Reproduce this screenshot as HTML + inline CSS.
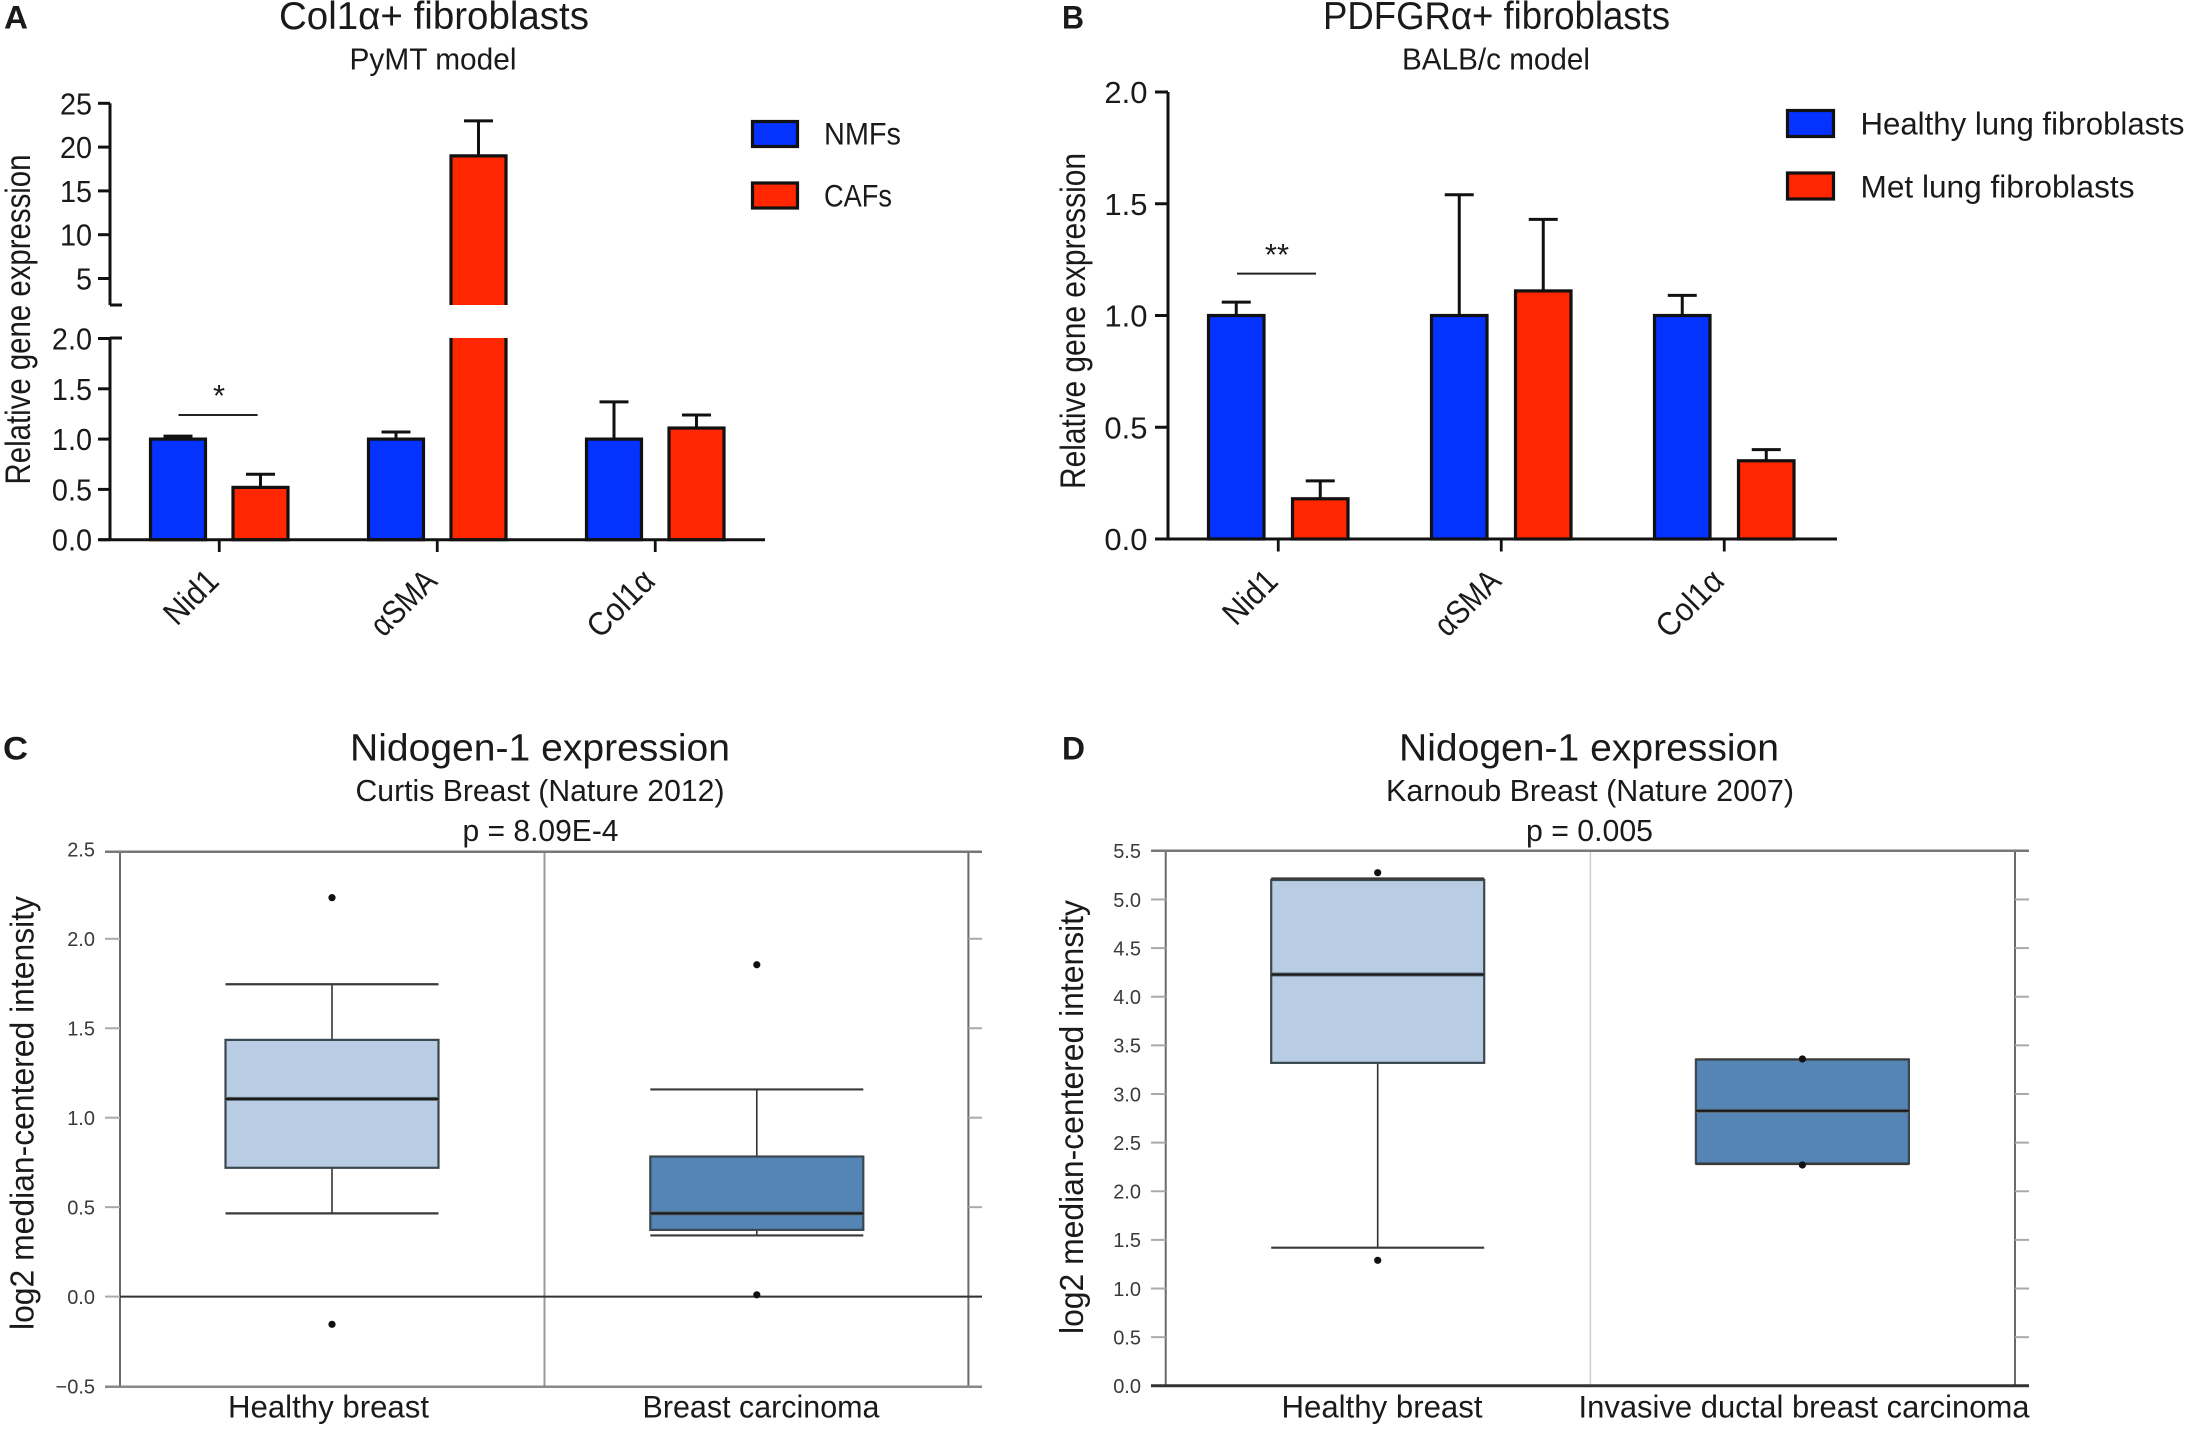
<!DOCTYPE html>
<html>
<head>
<meta charset="utf-8">
<title>Nidogen-1 expression figure</title>
<style>
html,body{margin:0;padding:0;background:#fff;}
svg{display:block;}
text{font-family:"Liberation Sans",sans-serif;fill:#1a1a1a;}
</style>
</head>
<body>
<svg id="fig" xmlns="http://www.w3.org/2000/svg" width="2186" height="1432" viewBox="0 0 2186 1432">
<rect x="0" y="0" width="2186" height="1432" fill="#fff"/>

<text x="4" y="28.5" font-size="32" font-weight="bold" textLength="24" lengthAdjust="spacingAndGlyphs">A</text>
<text x="279" y="29" font-size="39" textLength="310" lengthAdjust="spacingAndGlyphs">Col1α+ fibroblasts</text>
<text x="349.5" y="69.4" font-size="30.5" textLength="167" lengthAdjust="spacingAndGlyphs">PyMT model</text>
<text transform="translate(30 484.5) rotate(-90)" x="0" y="0" font-size="35" textLength="330" lengthAdjust="spacingAndGlyphs">Relative gene expression</text>
<text x="219" y="406" font-size="31" text-anchor="middle">*</text>
<rect x="752.5" y="121.5" width="45" height="25" fill="#0433ff" stroke="#111" stroke-width="3.2"/>
<text x="824" y="144.5" font-size="31.5" textLength="77" lengthAdjust="spacingAndGlyphs">NMFs</text>
<rect x="752.5" y="183" width="45" height="25" fill="#ff2600" stroke="#111" stroke-width="3.2"/>
<text x="824" y="206.5" font-size="31.5" textLength="68" lengthAdjust="spacingAndGlyphs">CAFs</text>

<text x="1062" y="28.5" font-size="32" font-weight="bold" textLength="22" lengthAdjust="spacingAndGlyphs">B</text>
<text x="1323" y="29" font-size="39" textLength="347" lengthAdjust="spacingAndGlyphs">PDFGRα+ fibroblasts</text>
<text x="1402" y="69.4" font-size="30.5" textLength="188" lengthAdjust="spacingAndGlyphs">BALB/c model</text>
<text transform="translate(1085 489) rotate(-90)" x="0" y="0" font-size="35" textLength="336" lengthAdjust="spacingAndGlyphs">Relative gene expression</text>
<text x="1277" y="265" font-size="31" text-anchor="middle">**</text>
<rect x="1787.5" y="110.5" width="46" height="26" fill="#0433ff" stroke="#111" stroke-width="3.2"/>
<text x="1860.5" y="134.5" font-size="31.5" textLength="324" lengthAdjust="spacingAndGlyphs">Healthy lung fibroblasts</text>
<rect x="1787.5" y="173" width="46" height="26" fill="#ff2600" stroke="#111" stroke-width="3.2"/>
<text x="1860.5" y="197.5" font-size="31.5" textLength="274" lengthAdjust="spacingAndGlyphs">Met lung fibroblasts</text>

<text x="3" y="759.5" font-size="32" font-weight="bold" textLength="25" lengthAdjust="spacingAndGlyphs">C</text>
<text x="350" y="760.7" font-size="38" textLength="380" lengthAdjust="spacingAndGlyphs">Nidogen-1 expression</text>
<text x="355.5" y="800.8" font-size="30.5" textLength="369" lengthAdjust="spacingAndGlyphs">Curtis Breast (Nature 2012)</text>
<text x="462.5" y="841" font-size="30.5" textLength="156" lengthAdjust="spacingAndGlyphs">p = 8.09E-4</text>
<text transform="translate(33.5 1330) rotate(-90)" x="0" y="0" font-size="33" textLength="434" lengthAdjust="spacingAndGlyphs">log2 median-centered intensity</text>

<text x="1062" y="759.5" font-size="32" font-weight="bold" textLength="23" lengthAdjust="spacingAndGlyphs">D</text>
<text x="1399" y="760.7" font-size="38" textLength="380" lengthAdjust="spacingAndGlyphs">Nidogen-1 expression</text>
<text x="1386" y="800.8" font-size="30.5" textLength="408" lengthAdjust="spacingAndGlyphs">Karnoub Breast (Nature 2007)</text>
<text x="1526" y="841" font-size="30.5" textLength="127" lengthAdjust="spacingAndGlyphs">p = 0.005</text>
<text transform="translate(1083 1334) rotate(-90)" x="0" y="0" font-size="33" textLength="434" lengthAdjust="spacingAndGlyphs">log2 median-centered intensity</text>
</svg>

<script>
// ---- Panel A data ----
const categoriesA = ['Nid1', 'αSMA', 'Col1α'];
const nmfMeansA = [1, 1, 1];
const nmfErrTopsA = [1.03, 1.07, 1.37];
const cafMeansA = [0.52, 19, 1.11];
const cafErrTopsA = [0.65, 23, 1.24];
const lowerTicksA = [0, 0.5, 1, 1.5, 2];
const upperTicksA = [5, 10, 15, 20, 25];

// ---- Panel B data ----
const categoriesB = ['Nid1', 'αSMA', 'Col1α'];
const healthyMeansB = [1, 1, 1];
const healthyErrTopsB = [1.06, 1.54, 1.09];
const metMeansB = [0.18, 1.11, 0.35];
const metErrTopsB = [0.26, 1.43, 0.40];
const ticksB = [0, 0.5, 1, 1.5, 2];

// ---- Panel C data ----
const groupsC = ['Healthy breast', 'Breast carcinoma'];
const q1C = [0.72, 0.373];
const medianC = [1.105, 0.465];
const q3C = [1.435, 0.783];
const whiskerLowC = [0.465, 0.342];
const whiskerHighC = [1.746, 1.158];
const outliersLowC = [-0.155, 0.01];
const outliersHighC = [2.23, 1.855];
const ticksC = [-0.5, 0, 0.5, 1, 1.5, 2, 2.5];

// ---- Panel D data ----
const groupsD = ['Healthy breast', 'Invasive ductal breast carcinoma'];
const q1D = [3.32, 2.285];
const medianD = [4.228, 2.827];
const q3D = [5.2, 3.355];
const whiskerLowD = [1.42, 2.28];
const whiskerHighD = [5.215, 3.355];
const outliersLowD = [1.29, 2.27];
const outliersHighD = [5.275, 3.36];
const ticksD = [0, 0.5, 1, 1.5, 2, 2.5, 3, 3.5, 4, 4.5, 5, 5.5];

const SVGNS = 'http://www.w3.org/2000/svg';
const root = document.getElementById('fig');
const INK = '#111';

function mk(tag, name, attrs, txt) {
  const el = document.createElementNS(SVGNS, tag);
  
  
  for (const k in attrs) el.setAttribute(k, attrs[k]);
  if (txt !== undefined) el.textContent = txt;
  root.appendChild(el);
  return el;
}
function line(name, x1, y1, x2, y2, color, w) {
  return mk('line', name, {x1: x1, y1: y1, x2: x2, y2: y2, stroke: color, 'stroke-width': w});
}

// ---- Axis functions ----
const A_BREAK_LOW = 338, A_BREAK_HIGH = 305;
function yLowerA(v) { return 539.7 - v * 100.6; }
function yUpperA(v) { return 103.3 + (25 - v) * 8.76; }
function yA(v) { return v <= 2 ? yLowerA(v) : yUpperA(v); }
function barLeftA(cat, series) { return 150.5 + cat * 218 + series * 82.5; }
const BAR_W_A = 55;
function yB(v) { return 539 - v * 223.5; }
function barLeftB(cat, series) { return 1208.5 + cat * 223 + series * 84; }
const BAR_W_B = 55.5;
function yC(v) { return 1296.6 - v * 178.9; }
function yD(v) { return 1385.8 - v * 97.27; }

function drawBar(name, left, w, top, base, color) {
  mk('rect', name, {x: left, y: top, width: w, height: base - top, fill: color, stroke: INK, 'stroke-width': 3.2});
}
function drawBrokenBar(name, left, w, top, color) {
  mk('path', name + '-upper', {d: 'M' + left + ' ' + A_BREAK_HIGH + ' V' + top + ' H' + (left + w) + ' V' + A_BREAK_HIGH, fill: color, stroke: INK, 'stroke-width': 3.2});
  mk('path', name + '-lower', {d: 'M' + left + ' ' + A_BREAK_LOW + ' V' + yLowerA(0) + ' H' + (left + w) + ' V' + A_BREAK_LOW, fill: color, stroke: INK, 'stroke-width': 3.2});
}
function drawErr(name, cx, yBar, yTop, cap) {
  line(name + '-stem', cx, yBar, cx, yTop, INK, 3);
  line(name + '-cap', cx - cap / 2, yTop, cx + cap / 2, yTop, INK, 3);
}
function tickLabel(name, x, y, s, size) {
  return mk('text', name, {x: x, y: y, 'font-size': size, 'text-anchor': 'end'}, s);
}
function condensedTickLabel(name, x, y, s, squeeze) {
  const size = 31;
  let len = 0;
  for (const ch of s) len += (ch === '.' ? 0.278 : 0.556) * size * squeeze;
  return mk('text', name, {x: x, y: y, 'font-size': size, 'text-anchor': 'end', textLength: len, lengthAdjust: 'spacingAndGlyphs'}, s);
}
function catLabel(name, x, y, s) {
  const len = s.length === 4 && s.charAt(0) === 'N' ? 62 : (s.charAt(0) === 'C' ? 80 : 78);
  return mk('text', name, {x: x, y: y, 'font-size': 33, 'text-anchor': 'end', textLength: len, lengthAdjust: 'spacingAndGlyphs', transform: 'rotate(-45 ' + x + ' ' + y + ')'}, s);
}

// ---- Panel A ----
categoriesA.forEach(function (c, i) {
  const l0 = barLeftA(i, 0), l1 = barLeftA(i, 1);
  drawErr('panel-a-nmf-error-' + i, l0 + BAR_W_A / 2, yA(nmfMeansA[i]), yA(nmfErrTopsA[i]), 29);
  drawErr('panel-a-caf-error-' + i, l1 + BAR_W_A / 2, yA(cafMeansA[i]), yA(cafErrTopsA[i]), 29);
  drawBar('panel-a-nmf-bar-' + i, l0, BAR_W_A, yA(nmfMeansA[i]), yLowerA(0), '#0433ff');
  if (cafMeansA[i] > 2) {
    drawBrokenBar('panel-a-caf-bar-' + i, l1, BAR_W_A, yA(cafMeansA[i]), '#ff2600');
  } else {
    drawBar('panel-a-caf-bar-' + i, l1, BAR_W_A, yA(cafMeansA[i]), yLowerA(0), '#ff2600');
  }
  const tx = (l0 + l1 + BAR_W_A) / 2;
  line('panel-a-x-tick-' + i, tx, yLowerA(0), tx, 552, INK, 2.8);
  catLabel('panel-a-x-label-' + i, tx + 1.5, 583, c);
});
line('panel-a-y-axis-lower', 110, yLowerA(0), 110, A_BREAK_LOW, INK, 3);
line('panel-a-y-axis-upper', 110, yUpperA(25), 110, A_BREAK_HIGH, INK, 3);
line('panel-a-x-axis', 99, yLowerA(0), 765, yLowerA(0), INK, 3);
line('panel-a-break-tick-low', 110, A_BREAK_LOW, 122, A_BREAK_LOW, INK, 3);
line('panel-a-break-tick-high', 110, A_BREAK_HIGH, 122, A_BREAK_HIGH, INK, 3);
lowerTicksA.forEach(function (v) {
  line('panel-a-y-tick', 98, yLowerA(v), 110, yLowerA(v), INK, 3);
  condensedTickLabel('panel-a-y-tick-label', 92, yLowerA(v) + 11, v.toFixed(1), 0.93);
});
upperTicksA.forEach(function (v) {
  line('panel-a-y-tick', 98, yUpperA(v), 110, yUpperA(v), INK, 3);
  condensedTickLabel('panel-a-y-tick-label', 92, yUpperA(v) + 11, String(v), 0.93);
});
line('panel-a-significance-bracket', 178.5, 415, 257.6, 415, '#222', 2);

// ---- Panel B ----
categoriesB.forEach(function (c, i) {
  const l0 = barLeftB(i, 0), l1 = barLeftB(i, 1);
  drawErr('panel-b-healthy-error-' + i, l0 + BAR_W_B / 2, yB(healthyMeansB[i]), yB(healthyErrTopsB[i]), 29);
  drawErr('panel-b-met-error-' + i, l1 + BAR_W_B / 2, yB(metMeansB[i]), yB(metErrTopsB[i]), 29);
  drawBar('panel-b-healthy-bar-' + i, l0, BAR_W_B, yB(healthyMeansB[i]), yB(0), '#0433ff');
  drawBar('panel-b-met-bar-' + i, l1, BAR_W_B, yB(metMeansB[i]), yB(0), '#ff2600');
  const tx = (l0 + l1 + BAR_W_B) / 2;
  line('panel-b-x-tick-' + i, tx, yB(0), tx, 551.5, INK, 2.8);
  catLabel('panel-b-x-label-' + i, tx + 1.5, 583, c);
});
line('panel-b-y-axis', 1168, yB(0), 1168, yB(2), INK, 3);
line('panel-b-x-axis', 1155.5, yB(0), 1837, yB(0), INK, 3);
ticksB.forEach(function (v) {
  line('panel-b-y-tick', 1155, yB(v), 1168, yB(v), INK, 3);
  condensedTickLabel('panel-b-y-tick-label', 1147.5, yB(v) + 11, v.toFixed(1), 1.0);
});
line('panel-b-significance-bracket', 1237, 273.6, 1316, 273.6, '#222', 2);

// ---- Box plots ----
function drawBoxPanel(p) {
  const centers = p.centers;
  line(p.id + '-frame-left', p.left, p.top, p.left, p.bottom, '#6a6a6a', 2);
  line(p.id + '-frame-right', p.right, p.top, p.right, p.bottom, '#6a6a6a', 2);
  line(p.id + '-divider', p.mid, p.top, p.mid, p.bottom, p.midColor, p.midW);
  line(p.id + '-frame-top', p.tickLeft, p.top, p.tickRight, p.top, '#777', 2.5);
  p.ticks.forEach(function (v) {
    const y = p.y(v);
    if (y > p.top + 1 && y < p.bottom - 1) {
      line(p.id + '-tick-left', p.tickLeft, y, p.left, y, '#aaa', 2);
      line(p.id + '-tick-right', p.right, y, p.tickRight, y, '#aaa', 2);
    }
    tickLabel(p.id + '-tick-label', p.labelX, y + 7.3, (v < 0 ? '\u2212' : '') + Math.abs(v).toFixed(1), 20).setAttribute('style', 'fill:#3a3a3a');
  });
  line(p.id + '-frame-bottom', p.tickLeft, p.bottom, p.tickRight, p.bottom, p.bottomColor, p.bottomW);
  if (p.zeroLine) line(p.id + '-zero-line', p.left, p.y(0), p.tickRight, p.y(0), '#333', 2);
  p.groups.forEach(function (g, i) {
    const c = centers[i], hw = p.halfW;
    const n = p.id + '-group-' + i;
    line(n + '-whisker-high', c, p.y(p.q3[i]), c, p.y(p.wHigh[i]), '#333', 1.6);
    line(n + '-whisker-low', c, p.y(p.q1[i]), c, p.y(p.wLow[i]), '#333', 1.6);
    mk('rect', n + '-box', {x: c - hw, y: p.y(p.q3[i]), width: 2 * hw, height: p.y(p.q1[i]) - p.y(p.q3[i]), fill: p.fills[i], stroke: '#3a4650', 'stroke-width': 2.2});
    line(n + '-whisker-cap-high', c - hw, p.y(p.wHigh[i]), c + hw, p.y(p.wHigh[i]), '#3a3a3a', 2.2);
    line(n + '-whisker-cap-low', c - hw, p.y(p.wLow[i]), c + hw, p.y(p.wLow[i]), '#3a3a3a', 2.2);
    line(n + '-median-halo', c - hw, p.y(p.median[i]), c + hw, p.y(p.median[i]), '#5b6670', 4);
    line(n + '-median', c - hw, p.y(p.median[i]), c + hw, p.y(p.median[i]), '#1a1a1a', 2.2);
    mk('circle', n + '-outlier-high', {cx: c, cy: p.y(p.outHigh[i]), r: 3.6, fill: '#111'});
    mk('circle', n + '-outlier-low', {cx: c, cy: p.y(p.outLow[i]), r: 3.6, fill: '#111'});
    mk('text', n + '-label', {x: p.labelXs[i], y: 1417.5, 'font-size': 31.5, textLength: p.labelWs[i], lengthAdjust: 'spacingAndGlyphs'}, g);
  });
}
drawBoxPanel({
  id: 'panel-c', left: 120, right: 968.4, mid: 544.5, top: 851.7, bottom: 1386.7,
  tickLeft: 105, tickRight: 982, labelX: 95, midColor: '#999', midW: 2,
  bottomColor: '#888', bottomW: 2.5, zeroLine: true,
  y: yC, ticks: ticksC, groups: groupsC, centers: [332, 756.8], halfW: 106.5,
  fills: ['#b8cde3', '#5585b5'], q1: q1C, q3: q3C, median: medianC,
  wLow: whiskerLowC, wHigh: whiskerHighC, outLow: outliersLowC, outHigh: outliersHighC,
  labelXs: [228, 642.5], labelWs: [201, 237]
});
drawBoxPanel({
  id: 'panel-d', left: 1165.7, right: 2015, mid: 1590.4, top: 850.8, bottom: 1385.8,
  tickLeft: 1151, tickRight: 2029, labelX: 1141, midColor: '#ccc', midW: 1.5,
  bottomColor: '#333', bottomW: 3, zeroLine: false,
  y: yD, ticks: ticksD, groups: groupsD, centers: [1377.7, 1802.4], halfW: 106.5,
  fills: ['#b8cde3', '#5585b5'], q1: q1D, q3: q3D, median: medianD,
  wLow: whiskerLowD, wHigh: whiskerHighD, outLow: outliersLowD, outHigh: outliersHighD,
  labelXs: [1281.5, 1578.5], labelWs: [201, 451]
});
</script>
</body>
</html>
